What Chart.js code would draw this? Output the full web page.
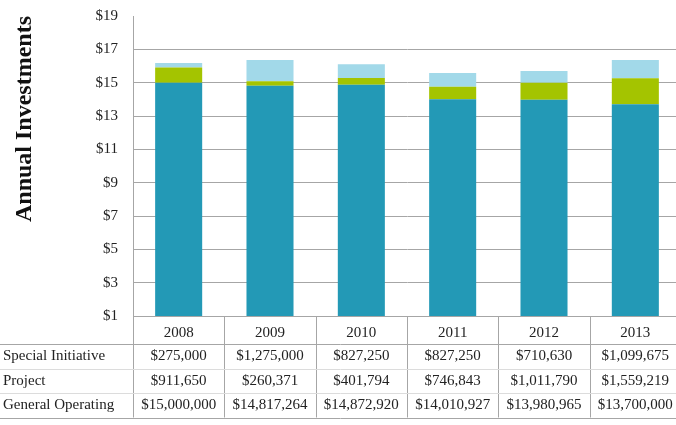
<!DOCTYPE html>
<html>
<head>
<meta charset="utf-8">
<script src="https://cdn.jsdelivr.net/npm/chart.js@4.4.1/dist/chart.umd.min.js"></script>
<style>
  html, body { margin: 0; padding: 0; background: #fff; overflow: hidden; }
  #wrap { width: 690px; height: 425px; }
</style>
</head>
<body>
<div id="wrap"><canvas id="chart" width="690" height="425"></canvas></div>
<script>
const years = ["2008", "2009", "2010", "2011", "2012", "2013"];
const specialInitiative = [275000, 1275000, 827250, 827250, 710630, 1099675];
const project = [911650, 260371, 401794, 746843, 1011790, 1559219];
const generalOperating = [15000000, 14817264, 14872920, 14010927, 13980965, 13700000];
const yMin = 1, yMax = 19, yStep = 2;

const serif = "'Liberation Serif', 'Times New Roman', serif";
const toMillions = (arr) => arr.map((v) => v / 1e6);
const money = (v) => "$" + v.toLocaleString("en-US");

const rows = [
  { label: "Special Initiative", values: specialInitiative },
  { label: "Project", values: project },
  { label: "General Operating", values: generalOperating },
];

// draws the data table under the plot, one column per category
const tablePlugin = {
  id: "dataTable",
  afterDraw(chart) {
    const ctx = chart.ctx;
    const area = chart.chartArea;
    const x = chart.scales.x;
    const colW = (area.right - area.left) / years.length;
    const top = area.bottom;
    const yearBottom = top + 28;
    const rowH = 24.5;
    const bottom = yearBottom + rowH * rows.length;

    ctx.save();
    ctx.lineWidth = 1;
    ctx.strokeStyle = "#a6a6a6";
    ctx.beginPath();
    ctx.moveTo(area.left, Math.round(top) + 0.5);
    ctx.lineTo(area.right, Math.round(top) + 0.5);
    ctx.moveTo(0, Math.round(yearBottom) + 0.5);
    ctx.lineTo(area.right, Math.round(yearBottom) + 0.5);
    ctx.moveTo(0, Math.round(bottom) + 0.5);
    ctx.lineTo(area.right, Math.round(bottom) + 0.5);
    for (let i = 0; i <= years.length; i++) {
      const cx = Math.round(area.left + i * colW) + 0.5;
      ctx.moveTo(cx, top);
      ctx.lineTo(cx, bottom);
    }
    ctx.stroke();

    ctx.strokeStyle = "#dcdcdc";
    ctx.beginPath();
    for (let r = 1; r < rows.length; r++) {
      const ry = Math.round(yearBottom + r * rowH) + 0.5;
      ctx.moveTo(0, ry);
      ctx.lineTo(area.right, ry);
    }
    ctx.stroke();

    ctx.font = "15px " + serif;
    ctx.fillStyle = "#222";
    ctx.textBaseline = "middle";
    rows.forEach((row, r) => {
      const cy = yearBottom + r * rowH + rowH / 2;
      ctx.textAlign = "left";
      ctx.fillText(row.label, 3, cy);
      ctx.textAlign = "center";
      row.values.forEach((v, i) => {
        ctx.fillText(money(v), x.getPixelForValue(i), cy);
      });
    });
    ctx.restore();
  },
};

new Chart(document.getElementById("chart"), {
  type: "bar",
  data: {
    labels: years,
    datasets: [
      { label: "General Operating", data: toMillions(generalOperating), backgroundColor: "#2399b6" },
      { label: "Project", data: toMillions(project), backgroundColor: "#a4c400" },
      { label: "Special Initiative", data: toMillions(specialInitiative), backgroundColor: "#a2d9e9" },
    ],
  },
  options: {
    responsive: false,
    animation: false,
    layout: { padding: { top: 16, right: 9, bottom: 8, left: 0 } },
    barPercentage: 0.515,
    categoryPercentage: 1,
    plugins: {
      legend: { display: false },
      tooltip: { enabled: false },
    },
    scales: {
      x: {
        stacked: true,
        grid: { display: false },
        border: { display: false },
        ticks: { color: "#222", font: { family: serif, size: 15 }, padding: 0 },
        afterFit: (scale) => { scale.height = 101; },
      },
      y: {
        stacked: true,
        min: yMin,
        max: yMax,
        ticks: {
          stepSize: yStep,
          color: "#222",
          font: { family: serif, size: 15 },
          padding: 0,
          callback: (v) => "$" + v,
        },
        grid: {
          drawTicks: true,
          tickLength: 15,
          tickColor: "rgba(0,0,0,0)",
          color: (c) => (c.tick && (c.tick.value === yMax || c.tick.value === yMin) ? "rgba(0,0,0,0)" : "#a6a6a6"),
        },
        border: { color: "#a6a6a6" },
        title: {
          display: true,
          text: "Annual Investments",
          align: "end",
          color: "#111",
          font: { family: serif, size: 24, weight: "bold" },
          padding: { top: 10, bottom: 0 },
        },
        afterFit: (scale) => { scale.width = 133; },
      },
    },
  },
  plugins: [tablePlugin],
});
</script>
</body>
</html>
